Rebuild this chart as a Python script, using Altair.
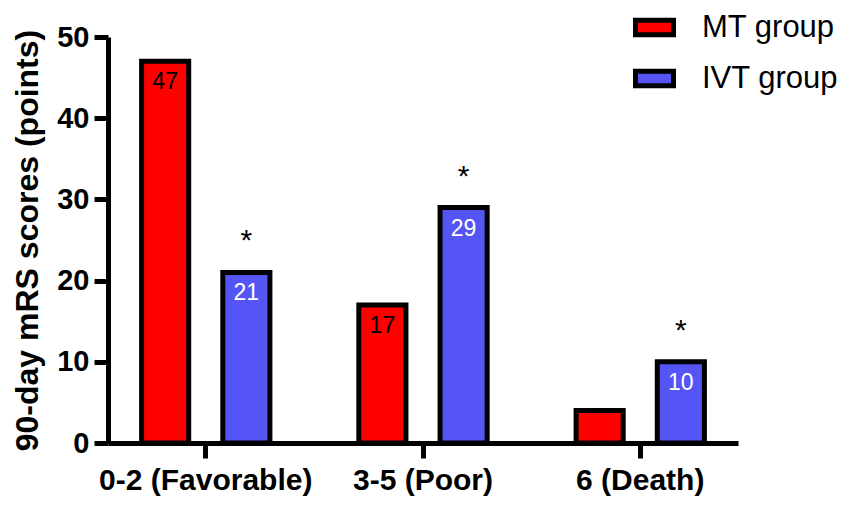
import altair as alt
import pandas as pd

# values
categories = ["0-2 (Favorable)", "3-5 (Poor)", "6 (Death)"]
groups = ["MT group", "IVT group"]
mt_values = [47, 17, 4]
ivt_values = [21, 29, 10]
mt_labels = ["47", "17", ""]
ivt_labels = ["21", "29", "10"]
ivt_sig = ["*", "*", "*"]

colors = ["#FF0000", "#5555F6"]
FONT = "Liberation Sans"

rows = []
for i, cat in enumerate(categories):
    rows.append({"cat": cat, "group": groups[0], "value": mt_values[i], "label": mt_labels[i], "sig": ""})
    rows.append({"cat": cat, "group": groups[1], "value": ivt_values[i], "label": ivt_labels[i], "sig": ivt_sig[i]})
df = pd.DataFrame(rows)

x_enc = alt.X("cat:N", sort=categories, title=None,
              scale=alt.Scale(paddingInner=0.2, paddingOuter=0.05),
              axis=alt.Axis(labelAngle=0, labelFontSize=30, labelFont=FONT, labelFontWeight="bold",
                            labelColor="black", labelPadding=7, labelLimit=0,
                            domainColor="black", domainWidth=5,
                            tickColor="black", tickWidth=5, tickSize=15))
xoff_enc = alt.XOffset("group:N", sort=groups,
                       scale=alt.Scale(paddingInner=0.42, paddingOuter=0.28))
y_enc = alt.Y("value:Q", title="90-day mRS scores (points)",
              scale=alt.Scale(domain=[0, 50], nice=False),
              axis=alt.Axis(values=[0, 10, 20, 30, 40, 50], grid=False,
                            labelFontSize=29, labelFont=FONT, labelFontWeight="bold", labelColor="black",
                            labelPadding=5, domainColor="black", domainWidth=5,
                            tickColor="black", tickWidth=5, tickSize=14,
                            titleFontSize=32, titleFont=FONT, titleFontWeight="bold",
                            titleColor="black", titlePadding=12))

base = alt.Chart(df)

bars = base.mark_bar(stroke="black", strokeWidth=5).encode(
    x=x_enc,
    xOffset=xoff_enc,
    y=y_enc,
    color=alt.Color("group:N", sort=groups,
                    scale=alt.Scale(domain=groups, range=colors),
                    legend=alt.Legend(title=None, orient="none", legendX=525, legendY=-31, padding=0,
                                      symbolType="M-1,-0.38H1V0.38H-1Z", symbolSize=1444,
                                      symbolStrokeColor="black", symbolStrokeWidth=5,
                                      symbolOpacity=1, labelFontSize=31, labelFont=FONT,
                                      labelColor="black", labelOffset=26, rowPadding=12)),
)

mt_text = base.transform_filter(alt.datum.group == groups[0]).mark_text(
    baseline="top", dy=10, fontSize=23, font=FONT, color="black"
).encode(x=x_enc, xOffset=xoff_enc, y=y_enc, text="label:N")

ivt_text = base.transform_filter(alt.datum.group == groups[1]).mark_text(
    baseline="top", dy=10, fontSize=23, font=FONT, color="white"
).encode(x=x_enc, xOffset=xoff_enc, y=y_enc, text="label:N")

stars = base.transform_filter(alt.datum.group == groups[1]).mark_text(
    baseline="alphabetic", dy=-22, fontSize=30, font=FONT, color="black"
).encode(x=x_enc, xOffset=xoff_enc, y=y_enc, text="sig:N")

chart = alt.layer(bars, mt_text, ivt_text, stars).properties(
    width=630, height=406,
    autosize=alt.AutoSizeParams(type="none"),
    padding={"left": 100, "top": 29, "right": 105, "bottom": 55},
).configure_view(stroke=None)

chart.save("out.html", embed_options={"renderer": "svg", "actions": False})
